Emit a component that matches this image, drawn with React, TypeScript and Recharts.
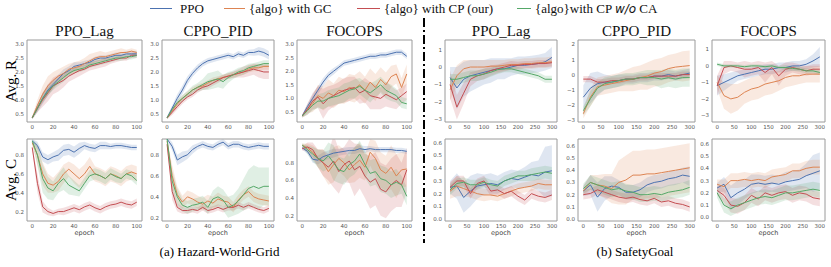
import React from "react";
import { ComposedChart, Line, Area, XAxis, YAxis, ReferenceArea } from "recharts";

// seaborn "deep" palette
const COLORS = ["#4c72b0", "#dd8452", "#c44e52", "#55a868"];
const KEYS = ["ppo", "gc", "cp", "ca"];

const EPOCH_HWG = [0, 5, 10, 15, 20, 25, 30, 35, 40, 45, 50, 55, 60, 65, 70, 75, 80, 85, 90, 95, 100];
const EPOCH_SG = [0, 20, 40, 60, 80, 100, 120, 140, 160, 180, 200, 220, 240, 260, 280, 300];
const TICKS_HWG = [0, 20, 40, 60, 80, 100];
const TICKS_SG = [0, 50, 100, 150, 200, 250, 300];
const TICKS_R_HWG = [0.5, 1.0, 1.5, 2.0, 2.5, 3.0];
const TICKS_C_HWG = [0.2, 0.4, 0.6, 0.8];
const TICKS_C_SG = [0, 0.1, 0.2, 0.3, 0.4, 0.5, 0.6];

// ---- Hazard-World-Grid, reward (order: PPO, GC, CP, CA) ----
const hwgLagR = [
  [0.35, 0.7, 1.05, 1.35, 1.55, 1.75, 1.95, 2.05, 2.2, 2.25, 2.3, 2.35, 2.45, 2.5, 2.5, 2.55, 2.6, 2.6, 2.65, 2.65, 2.65],
  [0.35, 0.8, 1.2, 1.5, 1.7, 1.85, 1.95, 2.1, 2.15, 2.2, 2.3, 2.4, 2.5, 2.55, 2.55, 2.6, 2.65, 2.7, 2.7, 2.75, 2.7],
  [0.35, 0.7, 1.0, 1.25, 1.5, 1.6, 1.7, 1.85, 1.95, 2.05, 2.1, 2.2, 2.25, 2.3, 2.35, 2.4, 2.45, 2.5, 2.5, 2.6, 2.6],
  [0.35, 0.7, 1.05, 1.3, 1.5, 1.65, 1.8, 1.95, 2.05, 2.1, 2.15, 2.25, 2.3, 2.35, 2.4, 2.45, 2.5, 2.5, 2.55, 2.55, 2.6],
];
const hwgLagRSd = [
  [0.05, 0.15, 0.2, 0.2, 0.15, 0.15, 0.15, 0.15, 0.15, 0.1, 0.1, 0.1, 0.1, 0.1, 0.1, 0.1, 0.1, 0.1, 0.1, 0.1, 0.1],
  [0.05, 0.2, 0.3, 0.35, 0.3, 0.25, 0.25, 0.2, 0.2, 0.2, 0.2, 0.25, 0.2, 0.2, 0.15, 0.15, 0.15, 0.15, 0.1, 0.1, 0.1],
  [0.05, 0.15, 0.25, 0.3, 0.3, 0.3, 0.25, 0.2, 0.2, 0.2, 0.15, 0.15, 0.15, 0.15, 0.15, 0.1, 0.1, 0.1, 0.1, 0.1, 0.1],
  [0.05, 0.1, 0.15, 0.15, 0.15, 0.15, 0.15, 0.1, 0.1, 0.1, 0.1, 0.1, 0.1, 0.1, 0.1, 0.1, 0.1, 0.1, 0.1, 0.1, 0.1],
];
const hwgPidR = [
  [0.35, 0.7, 1.05, 1.35, 1.7, 1.95, 2.15, 2.3, 2.4, 2.45, 2.5, 2.55, 2.6, 2.55, 2.65, 2.6, 2.7, 2.7, 2.75, 2.7, 2.6],
  [0.35, 0.6, 0.85, 1.05, 1.2, 1.35, 1.45, 1.5, 1.6, 1.7, 1.75, 1.8, 1.85, 1.9, 1.95, 2.0, 2.1, 2.15, 2.15, 2.2, 2.2],
  [0.35, 0.55, 0.75, 0.95, 1.1, 1.2, 1.35, 1.45, 1.5, 1.6, 1.7, 1.8, 1.85, 1.9, 1.95, 2.0, 2.05, 2.1, 2.05, 2.0, 2.0],
  [0.35, 0.65, 0.9, 1.05, 1.2, 1.35, 1.45, 1.55, 1.65, 1.7, 1.75, 1.65, 1.8, 1.9, 2.0, 2.05, 2.15, 2.2, 2.25, 2.3, 2.3],
];
const hwgPidRSd = [
  [0.05, 0.1, 0.15, 0.15, 0.15, 0.12, 0.12, 0.1, 0.1, 0.1, 0.1, 0.1, 0.1, 0.1, 0.1, 0.1, 0.1, 0.12, 0.15, 0.15, 0.15],
  [0.05, 0.1, 0.1, 0.1, 0.1, 0.1, 0.1, 0.1, 0.1, 0.1, 0.1, 0.1, 0.1, 0.1, 0.1, 0.1, 0.12, 0.12, 0.12, 0.12, 0.12],
  [0.05, 0.1, 0.1, 0.1, 0.1, 0.1, 0.1, 0.1, 0.1, 0.1, 0.1, 0.1, 0.1, 0.12, 0.15, 0.2, 0.2, 0.2, 0.25, 0.25, 0.25],
  [0.05, 0.1, 0.1, 0.12, 0.12, 0.15, 0.15, 0.2, 0.3, 0.3, 0.3, 0.25, 0.2, 0.15, 0.15, 0.15, 0.15, 0.12, 0.12, 0.12, 0.12],
];
const hwgFocR = [
  [0.35, 0.7, 1.0, 1.3, 1.6, 1.85, 2.0, 2.15, 2.3, 2.35, 2.4, 2.45, 2.5, 2.55, 2.55, 2.6, 2.6, 2.65, 2.7, 2.7, 2.55],
  [0.35, 0.6, 0.8, 1.1, 1.0, 1.2, 1.1, 1.3, 1.25, 1.4, 1.35, 1.5, 1.3, 1.6, 1.4, 1.7, 1.5, 1.8, 1.9, 1.4, 1.9],
  [0.35, 0.6, 0.9, 1.05, 0.8, 1.0, 1.1, 1.2, 1.3, 1.35, 1.4, 1.2, 1.3, 1.1, 1.05, 1.0, 1.15, 1.05, 0.95, 1.1, 1.25],
  [0.35, 0.55, 0.75, 0.9, 0.9, 1.0, 1.05, 1.1, 1.2, 1.3, 1.35, 1.45, 1.3, 1.2, 1.35, 1.5, 1.3, 1.2, 1.1, 0.85, 0.8],
];
const hwgFocRSd = [
  [0.05, 0.1, 0.15, 0.15, 0.15, 0.12, 0.12, 0.1, 0.1, 0.1, 0.1, 0.1, 0.1, 0.1, 0.1, 0.1, 0.1, 0.1, 0.1, 0.1, 0.1],
  [0.05, 0.15, 0.3, 0.4, 0.45, 0.5, 0.45, 0.5, 0.45, 0.5, 0.5, 0.5, 0.5, 0.5, 0.5, 0.45, 0.45, 0.4, 0.35, 0.35, 0.35],
  [0.05, 0.2, 0.3, 0.4, 0.55, 0.45, 0.4, 0.4, 0.45, 0.45, 0.4, 0.4, 0.45, 0.5, 0.45, 0.4, 0.45, 0.4, 0.35, 0.3, 0.3],
  [0.05, 0.15, 0.2, 0.25, 0.3, 0.3, 0.3, 0.3, 0.35, 0.3, 0.35, 0.3, 0.3, 0.35, 0.3, 0.3, 0.3, 0.3, 0.25, 0.2, 0.2],
];

// ---- Hazard-World-Grid, cost ----
const hwgLagC = [
  [0.95, 0.9, 0.78, 0.75, 0.78, 0.8, 0.85, 0.86, 0.83, 0.87, 0.9, 0.88, 0.87, 0.9, 0.9, 0.89, 0.9, 0.9, 0.89, 0.88, 0.88],
  [0.93, 0.8, 0.6, 0.5, 0.48, 0.52, 0.6, 0.65, 0.6, 0.55, 0.6, 0.68, 0.6, 0.58, 0.55, 0.6, 0.58, 0.55, 0.6, 0.62, 0.6],
  [0.88, 0.5, 0.25, 0.2, 0.18, 0.2, 0.2, 0.22, 0.24, 0.22, 0.25, 0.27, 0.24, 0.22, 0.25, 0.27, 0.28, 0.3, 0.28, 0.27, 0.3],
  [0.95, 0.8, 0.55, 0.45, 0.42, 0.5, 0.55, 0.48, 0.45, 0.42, 0.5, 0.58, 0.6, 0.58, 0.55, 0.6, 0.57, 0.55, 0.6, 0.58, 0.53],
];
const hwgLagCSd = [
  [0.02, 0.04, 0.05, 0.05, 0.05, 0.06, 0.06, 0.06, 0.06, 0.06, 0.04, 0.04, 0.04, 0.04, 0.04, 0.03, 0.03, 0.03, 0.03, 0.03, 0.03],
  [0.02, 0.1, 0.12, 0.1, 0.08, 0.1, 0.1, 0.08, 0.1, 0.1, 0.1, 0.1, 0.08, 0.08, 0.08, 0.08, 0.08, 0.08, 0.08, 0.08, 0.08],
  [0.02, 0.1, 0.06, 0.04, 0.03, 0.03, 0.04, 0.04, 0.04, 0.04, 0.04, 0.04, 0.04, 0.04, 0.04, 0.04, 0.04, 0.04, 0.04, 0.04, 0.04],
  [0.02, 0.12, 0.15, 0.12, 0.1, 0.1, 0.12, 0.1, 0.08, 0.06, 0.06, 0.06, 0.06, 0.06, 0.06, 0.06, 0.06, 0.05, 0.05, 0.05, 0.05],
];
const hwgPidC = [
  [0.95, 0.88, 0.75, 0.78, 0.8, 0.85, 0.88, 0.9, 0.88, 0.87, 0.9, 0.92, 0.88, 0.9, 0.9, 0.88, 0.87, 0.88, 0.89, 0.88, 0.88],
  [0.93, 0.6, 0.42, 0.35, 0.4, 0.38, 0.35, 0.33, 0.36, 0.34, 0.38, 0.36, 0.35, 0.3, 0.37, 0.42, 0.45, 0.4, 0.38, 0.37, 0.36],
  [0.9, 0.45, 0.3, 0.27, 0.27, 0.28, 0.27, 0.3, 0.27, 0.28, 0.3, 0.28, 0.3, 0.3, 0.32, 0.3, 0.32, 0.3, 0.28, 0.27, 0.29],
  [0.95, 0.55, 0.4, 0.32, 0.3, 0.32, 0.33, 0.35, 0.3, 0.38, 0.4, 0.37, 0.3, 0.32, 0.36, 0.42, 0.48, 0.5, 0.48, 0.5, 0.5],
];
const hwgPidCSd = [
  [0.02, 0.04, 0.05, 0.05, 0.04, 0.04, 0.03, 0.03, 0.03, 0.03, 0.03, 0.03, 0.03, 0.03, 0.03, 0.03, 0.03, 0.03, 0.03, 0.03, 0.03],
  [0.02, 0.1, 0.08, 0.06, 0.06, 0.06, 0.06, 0.06, 0.06, 0.06, 0.06, 0.05, 0.05, 0.05, 0.05, 0.05, 0.05, 0.05, 0.05, 0.05, 0.05],
  [0.02, 0.08, 0.04, 0.03, 0.03, 0.03, 0.03, 0.03, 0.03, 0.03, 0.03, 0.03, 0.03, 0.03, 0.03, 0.03, 0.03, 0.03, 0.03, 0.03, 0.03],
  [0.02, 0.1, 0.08, 0.06, 0.06, 0.06, 0.06, 0.06, 0.06, 0.08, 0.1, 0.1, 0.1, 0.1, 0.12, 0.15, 0.18, 0.2, 0.2, 0.18, 0.18],
];
const hwgFocC = [
  [0.97, 0.93, 0.84, 0.83, 0.87, 0.89, 0.91, 0.92, 0.93, 0.94, 0.94, 0.96, 0.95, 0.96, 0.95, 0.95, 0.95, 0.95, 0.94, 0.94, 0.93],
  [1.0, 0.97, 0.92, 0.85, 0.8, 0.7, 0.78, 0.85, 0.8, 0.72, 0.78, 0.83, 0.75, 0.92, 0.85, 0.72, 0.68, 0.75, 0.65, 0.72, 0.73],
  [0.96, 0.98, 0.95, 0.85, 0.8, 0.75, 0.82, 0.7, 0.78, 0.82, 0.72, 0.76, 0.65, 0.58, 0.62, 0.5, 0.47, 0.55, 0.6, 0.55, 0.72],
  [1.0, 0.95, 0.9, 0.85, 0.82, 0.88, 0.8, 0.72, 0.7, 0.78, 0.82, 0.9, 0.78, 0.68, 0.7, 0.62, 0.6, 0.55, 0.58, 0.55, 0.42],
];
const hwgFocCSd = [
  [0.02, 0.03, 0.04, 0.05, 0.05, 0.05, 0.05, 0.04, 0.04, 0.04, 0.04, 0.04, 0.04, 0.03, 0.03, 0.03, 0.03, 0.03, 0.03, 0.03, 0.03],
  [0.02, 0.05, 0.08, 0.1, 0.15, 0.15, 0.2, 0.15, 0.15, 0.15, 0.2, 0.2, 0.15, 0.15, 0.2, 0.2, 0.2, 0.25, 0.25, 0.2, 0.2],
  [0.02, 0.05, 0.08, 0.1, 0.15, 0.15, 0.3, 0.25, 0.2, 0.25, 0.3, 0.25, 0.25, 0.3, 0.3, 0.3, 0.3, 0.3, 0.3, 0.25, 0.25],
  [0.02, 0.05, 0.08, 0.1, 0.12, 0.15, 0.2, 0.15, 0.15, 0.15, 0.15, 0.15, 0.15, 0.15, 0.15, 0.15, 0.15, 0.15, 0.15, 0.1, 0.1],
];

// ---- SafetyGoal, reward ----
const sgLagR = [
  [-0.6, -1.2, -0.7, -0.5, -0.4, -0.3, -0.2, -0.1, -0.1, 0, 0.1, 0.1, 0.15, 0.2, 0.3, 0.55],
  [-1.3, -0.5, -0.1, 0, 0, 0, 0.05, 0.05, 0.1, 0.15, 0.15, 0.2, 0.2, 0.25, 0.25, 0.3],
  [-1.0, -2.3, -1.5, -0.7, -0.5, -0.4, -0.2, -0.1, 0, 0.1, 0.1, 0.15, 0.15, 0.2, 0.2, 0.25],
  [-0.7, -0.7, -0.6, -0.5, -0.5, -0.4, -0.3, -0.15, -0.1, -0.1, -0.2, -0.3, -0.4, -0.5, -0.7, -0.7],
];
const sgLagRSd = [
  [0.6, 1.2, 1.0, 0.9, 0.8, 0.7, 0.7, 0.6, 0.6, 0.5, 0.5, 0.5, 0.5, 0.5, 0.5, 0.6],
  [0.6, 0.6, 0.5, 0.4, 0.4, 0.4, 0.35, 0.35, 0.3, 0.3, 0.3, 0.3, 0.3, 0.3, 0.3, 0.3],
  [0.8, 0.7, 0.6, 0.4, 0.3, 0.3, 0.3, 0.25, 0.25, 0.25, 0.2, 0.2, 0.2, 0.2, 0.2, 0.2],
  [0.3, 0.3, 0.3, 0.3, 0.3, 0.3, 0.25, 0.25, 0.2, 0.2, 0.2, 0.2, 0.2, 0.2, 0.2, 0.2],
];
const sgPidR = [
  [-1.5, -0.9, -0.6, -0.5, -0.5, -0.4, -0.3, -0.3, -0.2, -0.2, -0.1, -0.1, 0, -0.1, 0, 0.1],
  [-2.6, -1.5, -0.8, -0.7, -0.6, -0.5, -0.4, -0.3, -0.2, -0.1, 0.1, 0.2, 0.4, 0.5, 0.55, 0.6],
  [-0.3, -0.3, -0.5, -0.5, -0.4, -0.4, -0.3, -0.3, -0.2, -0.2, -0.1, -0.1, -0.1, -0.1, 0, 0],
  [-2.4, -1.6, -0.9, -0.6, -0.5, -0.4, -0.3, -0.3, -0.2, -0.2, -0.2, -0.3, -0.2, -0.3, -0.2, -0.2],
];
const sgPidRSd = [
  [0.8, 1.0, 0.8, 0.5, 0.4, 0.4, 0.3, 0.3, 0.3, 0.3, 0.3, 0.3, 0.3, 0.3, 0.3, 0.3],
  [0.3, 0.6, 0.6, 0.6, 0.6, 0.6, 0.7, 0.8, 0.8, 0.9, 0.9, 0.9, 0.9, 0.9, 1.0, 1.0],
  [0.2, 0.2, 0.2, 0.2, 0.2, 0.2, 0.2, 0.2, 0.2, 0.2, 0.2, 0.2, 0.2, 0.2, 0.2, 0.2],
  [0.3, 0.5, 0.4, 0.4, 0.4, 0.4, 0.4, 0.4, 0.4, 0.5, 0.5, 0.6, 0.6, 0.6, 0.6, 0.6],
];
const sgFocR = [
  [-1.2, -1.0, -0.8, -0.6, -0.5, -0.4, -0.3, -0.2, -0.2, -0.1, -0.1, 0, 0, 0.1, 0.3, 0.55],
  [-1.0, -1.8, -2.0, -1.9, -1.6, -1.4, -1.3, -1.1, -1.0, -0.9, -0.7, -0.6, -0.6, -0.5, -0.5, -0.5],
  [-1.2, -0.1, 0, -0.1, -0.2, -0.2, -0.1, -0.4, -0.1, -0.6, -0.2, -0.1, -0.2, -0.3, -0.2, -0.2],
  [0.1, 0, 0, 0, -0.05, 0, 0, -0.05, 0, -0.1, -0.1, -0.15, -0.2, -0.3, -0.3, -0.4],
];
const sgFocRSd = [
  [0.6, 0.5, 0.4, 0.3, 0.3, 0.3, 0.3, 0.3, 0.3, 0.3, 0.3, 0.3, 0.3, 0.3, 0.4, 0.6],
  [0.4, 0.8, 0.9, 0.8, 0.7, 0.7, 0.7, 0.7, 0.7, 0.6, 0.6, 0.6, 0.5, 0.5, 0.5, 0.5],
  [0.6, 0.4, 0.3, 0.3, 0.5, 0.4, 0.4, 0.6, 0.4, 0.6, 0.4, 0.3, 0.3, 0.3, 0.3, 0.3],
  [0.1, 0.1, 0.1, 0.1, 0.1, 0.1, 0.1, 0.1, 0.1, 0.1, 0.15, 0.15, 0.15, 0.15, 0.15, 0.15],
];

// ---- SafetyGoal, cost ----
const sgLagC = [
  [0.25, 0.26, 0.17, 0.22, 0.26, 0.27, 0.28, 0.27, 0.3, 0.32, 0.31, 0.33, 0.35, 0.34, 0.37, 0.38],
  [0.22, 0.26, 0.24, 0.22, 0.2, 0.19, 0.19, 0.18, 0.2, 0.22, 0.24, 0.25, 0.26, 0.28, 0.27, 0.27],
  [0.25, 0.3, 0.3, 0.2, 0.28, 0.3, 0.22, 0.23, 0.2, 0.22, 0.18, 0.15, 0.2, 0.18, 0.17, 0.19],
  [0.23, 0.28, 0.29, 0.27, 0.27, 0.29, 0.27, 0.26, 0.3, 0.32, 0.34, 0.34, 0.35, 0.36, 0.37, 0.36],
];
const sgLagCSd = [
  [0.05, 0.1, 0.12, 0.12, 0.1, 0.08, 0.08, 0.07, 0.07, 0.07, 0.07, 0.08, 0.1, 0.12, 0.2, 0.2],
  [0.06, 0.08, 0.06, 0.05, 0.05, 0.05, 0.04, 0.04, 0.04, 0.04, 0.04, 0.04, 0.04, 0.04, 0.04, 0.04],
  [0.04, 0.04, 0.04, 0.04, 0.04, 0.04, 0.04, 0.04, 0.04, 0.04, 0.04, 0.04, 0.04, 0.04, 0.04, 0.04],
  [0.04, 0.04, 0.04, 0.04, 0.04, 0.04, 0.04, 0.04, 0.04, 0.04, 0.04, 0.04, 0.05, 0.05, 0.05, 0.05],
];
const sgPidC = [
  [0.23, 0.28, 0.18, 0.25, 0.27, 0.26, 0.22, 0.22, 0.24, 0.28, 0.3, 0.31, 0.33, 0.34, 0.36, 0.35],
  [0.23, 0.3, 0.28, 0.27, 0.25, 0.3, 0.32, 0.36, 0.36, 0.37, 0.37, 0.38, 0.39, 0.4, 0.41, 0.42],
  [0.2, 0.21, 0.24, 0.22, 0.2, 0.18, 0.17, 0.18, 0.16, 0.15, 0.17, 0.14, 0.15, 0.13, 0.12, 0.1],
  [0.25, 0.3, 0.28, 0.26, 0.24, 0.25, 0.23, 0.22, 0.2, 0.2, 0.21, 0.2, 0.22, 0.23, 0.24, 0.26],
];
const sgPidCSd = [
  [0.04, 0.08, 0.12, 0.1, 0.08, 0.06, 0.06, 0.06, 0.06, 0.06, 0.06, 0.06, 0.06, 0.06, 0.06, 0.08],
  [0.04, 0.06, 0.08, 0.1, 0.12, 0.18, 0.2, 0.2, 0.2, 0.2, 0.2, 0.2, 0.2, 0.2, 0.2, 0.2],
  [0.04, 0.04, 0.04, 0.04, 0.04, 0.04, 0.04, 0.04, 0.04, 0.04, 0.04, 0.04, 0.04, 0.04, 0.04, 0.04],
  [0.04, 0.06, 0.06, 0.06, 0.06, 0.06, 0.06, 0.06, 0.06, 0.06, 0.06, 0.06, 0.06, 0.06, 0.06, 0.06],
];
const sgFocC = [
  [0.24, 0.27, 0.16, 0.2, 0.23, 0.27, 0.28, 0.27, 0.28, 0.27, 0.29, 0.3, 0.31, 0.34, 0.36, 0.38],
  [0.27, 0.25, 0.3, 0.3, 0.31, 0.3, 0.31, 0.3, 0.33, 0.34, 0.35, 0.38, 0.38, 0.4, 0.41, 0.41],
  [0.22, 0.18, 0.1, 0.09, 0.12, 0.18, 0.15, 0.2, 0.18, 0.2, 0.21, 0.18, 0.2, 0.19, 0.16, 0.15],
  [0.2, 0.1, 0.07, 0.1, 0.12, 0.14, 0.16, 0.17, 0.16, 0.18, 0.2, 0.2, 0.21, 0.22, 0.23, 0.22],
];
const sgFocCSd = [
  [0.04, 0.06, 0.1, 0.1, 0.08, 0.08, 0.07, 0.07, 0.07, 0.07, 0.08, 0.08, 0.08, 0.1, 0.15, 0.15],
  [0.04, 0.06, 0.06, 0.06, 0.06, 0.06, 0.06, 0.06, 0.06, 0.06, 0.06, 0.06, 0.06, 0.06, 0.06, 0.06],
  [0.04, 0.06, 0.06, 0.06, 0.06, 0.06, 0.06, 0.06, 0.06, 0.06, 0.06, 0.06, 0.06, 0.06, 0.06, 0.06],
  [0.04, 0.06, 0.06, 0.06, 0.06, 0.06, 0.06, 0.06, 0.06, 0.06, 0.06, 0.06, 0.06, 0.06, 0.06, 0.06],
];

const SERIF = '"Liberation Serif", "Times New Roman", serif';
const SANS = '"DejaVu Sans", sans-serif';
const FRAME = "#9a9a9a";

const YW = 22;
const TM = 4;
const RM = 4;
const XH = 11;

function buildRows(xs: number[], means: number[][], sds: number[][]) {
  return xs.map((x, i) => {
    const row: any = { x };
    KEYS.forEach((k, j) => {
      row[k] = means[j][i];
      row[k + "Band"] = [means[j][i] - sds[j][i], means[j][i] + sds[j][i]];
    });
    return row;
  });
}

const fmt1 = (v: number) => v.toFixed(1);
const fmtInt = (v: number) => (v < 0 ? "\u2212" + Math.abs(v) : String(v));

function Panel(props: any) {
  const { left, top, w, h, xs, means, sds, xDomain, xTicks, yDomain, yTicks, yFmt, epoch } = props;
  const data = buildRows(xs, means, sds);
  return (
    <>
      <div style={{ position: "absolute", left: left - YW, top: top - TM }}>
        <ComposedChart width={w + YW + RM} height={h + TM + XH} data={data} margin={{ top: TM, right: RM, left: 0, bottom: 0 }}>
          <XAxis
            type="number"
            dataKey="x"
            domain={xDomain}
            ticks={xTicks}
            axisLine={false}
            tickLine={false}
            tickSize={2}
            tickMargin={1}
            height={XH}
            tick={{ fontSize: 5.5, fill: "#555", fontFamily: SANS }}
          />
          <YAxis
            type="number"
            domain={yDomain}
            ticks={yTicks}
            allowDataOverflow
            axisLine={false}
            tickLine={false}
            tickSize={2}
            tickMargin={1}
            width={YW}
            tickFormatter={yFmt}
            tick={{ fontSize: 5.5, fill: "#555", fontFamily: SANS }}
          />
          {KEYS.map((k, j) => (
            <Area key={k + "b"} dataKey={k + "Band"} stroke="none" fill={COLORS[j]} fillOpacity={0.18} isAnimationActive={false} />
          ))}
          {KEYS.map((k, j) => (
            <Line key={k} dataKey={k} stroke={COLORS[j]} strokeWidth={1} dot={false} isAnimationActive={false} />
          ))}
          <ReferenceArea x1={xDomain[0]} x2={xDomain[1]} y1={yDomain[0]} y2={yDomain[1]} fill="none" stroke={FRAME} strokeWidth={1} />
        </ComposedChart>
      </div>
      {epoch && (
        <div style={{ position: "absolute", left, width: w, top: top + h + 8, textAlign: "center", fontFamily: SANS, fontSize: 6.5, lineHeight: "8px", color: "#444" }}>
          epoch
        </div>
      )}
    </>
  );
}

const TOP = 40;
const BOT = 139;
const H = 82;
const COLS = [
  { left: 27, w: 115, title: "PPO_Lag" },
  { left: 162, w: 112, title: "CPPO_PID" },
  { left: 297, w: 115, title: "FOCOPS" },
  { left: 445, w: 112, title: "PPO_Lag" },
  { left: 578, w: 117, title: "CPPO_PID" },
  { left: 712, w: 113, title: "FOCOPS" },
];

const LEGEND = [
  { label: "PPO", x: 150, sw: 22 },
  { label: "{algo} with GC", x: 224, sw: 21 },
  { label: "{algo} with CP (our)", x: 357, sw: 23 },
  { label: "CA", x: 517, sw: 14 },
];

export default function App() {
  const hwgX = { xs: EPOCH_HWG, xDomain: [-5, 105], xTicks: TICKS_HWG };
  const sgX = { xs: EPOCH_SG, xDomain: [-15, 315], xTicks: TICKS_SG };
  const rHwg = { yTicks: TICKS_R_HWG, yFmt: fmt1 };
  const cHwg = { yTicks: TICKS_C_HWG, yFmt: fmt1, epoch: true };
  const cSg = { yTicks: TICKS_C_SG, yFmt: fmt1, epoch: true };

  return (
    <div style={{ position: "absolute", left: 0, top: 0, width: 831, height: 267, background: "#fff", overflow: "hidden" }}>
      {/* legend */}
      {LEGEND.map((it, i) => (
        <div key={i} style={{ position: "absolute", left: it.x, top: 0, height: 17, display: "flex", alignItems: "center", fontFamily: SERIF, fontSize: 13, color: "#111", whiteSpace: "nowrap" }}>
          <span style={{ display: "inline-block", width: it.sw, height: 1.5, background: COLORS[i], marginRight: i === 0 ? 8 : 4 }} />
          {i === 3 ? (
            <span>
              {"{algo}with CP "}
              <i style={{ fontFamily: SANS, fontSize: 12 }}>w/o</i>
              {" CA"}
            </span>
          ) : (
            it.label
          )}
        </div>
      ))}

      {/* titles */}
      {COLS.map((c, i) => (
        <div key={i} style={{ position: "absolute", left: c.left, width: c.w, top: 23, textAlign: "center", fontFamily: SERIF, fontSize: 15, color: "#111" }}>
          {c.title}
        </div>
      ))}

      {/* y labels */}
      <div style={{ position: "absolute", left: 11, top: TOP + H / 2, transform: "translate(-50%, -50%) rotate(-90deg)", fontFamily: SERIF, fontSize: 15, whiteSpace: "nowrap" }}>Avg. R</div>
      <div style={{ position: "absolute", left: 11, top: BOT + H / 2, transform: "translate(-50%, -50%) rotate(-90deg)", fontFamily: SERIF, fontSize: 15, whiteSpace: "nowrap" }}>Avg. C</div>

      {/* Hazard-World-Grid */}
      <Panel {...COLS[0]} top={TOP} h={H} {...hwgX} {...rHwg} means={hwgLagR} sds={hwgLagRSd} yDomain={[0.2, 3.15]} />
      <Panel {...COLS[1]} top={TOP} h={H} {...hwgX} {...rHwg} means={hwgPidR} sds={hwgPidRSd} yDomain={[0.2, 3.15]} />
      <Panel {...COLS[2]} top={TOP} h={H} {...hwgX} {...rHwg} means={hwgFocR} sds={hwgFocRSd} yDomain={[0.13, 3.15]} />
      <Panel {...COLS[0]} top={BOT} h={H} {...hwgX} {...cHwg} means={hwgLagC} sds={hwgLagCSd} yDomain={[0.1, 0.97]} />
      <Panel {...COLS[1]} top={BOT} h={H} {...hwgX} {...cHwg} means={hwgPidC} sds={hwgPidCSd} yDomain={[0.17, 0.95]} />
      <Panel {...COLS[2]} top={BOT} h={H} {...hwgX} {...cHwg} means={hwgFocC} sds={hwgFocCSd} yDomain={[0.14, 1.07]} />

      {/* SafetyGoal */}
      <Panel {...COLS[3]} top={TOP} h={H} {...sgX} yTicks={[-3, -2, -1, 0, 1]} yFmt={fmtInt} means={sgLagR} sds={sgLagRSd} yDomain={[-3.15, 1.55]} />
      <Panel {...COLS[4]} top={TOP} h={H} {...sgX} yTicks={[-3, -2, -1, 0, 1, 2]} yFmt={fmtInt} means={sgPidR} sds={sgPidRSd} yDomain={[-3.15, 2.3]} />
      <Panel {...COLS[5]} top={TOP} h={H} {...sgX} yTicks={[-3, -2, -1, 0, 1]} yFmt={fmtInt} means={sgFocR} sds={sgFocRSd} yDomain={[-3.4, 1.57]} />
      <Panel {...COLS[3]} top={BOT} h={H} {...sgX} {...cSg} means={sgLagC} sds={sgLagCSd} yDomain={[-0.015, 0.63]} />
      <Panel {...COLS[4]} top={BOT} h={H} {...sgX} {...cSg} means={sgPidC} sds={sgPidCSd} yDomain={[-0.015, 0.655]} />
      <Panel {...COLS[5]} top={BOT} h={H} {...sgX} {...cSg} means={sgFocC} sds={sgFocCSd} yDomain={[-0.03, 0.64]} />

      {/* dash-dot separator */}
      <svg style={{ position: "absolute", left: 420, top: 18 }} width={8} height={225}>
        <line x1={4} y1={0} x2={4} y2={225} stroke="#000" strokeWidth={2} strokeDasharray="9 3 2 3" />
      </svg>

      {/* captions */}
      <div style={{ position: "absolute", left: 27, width: 385, top: 244, textAlign: "center", fontFamily: SERIF, fontSize: 13 }}>(a) Hazard-World-Grid</div>
      <div style={{ position: "absolute", left: 445, width: 380, top: 244, textAlign: "center", fontFamily: SERIF, fontSize: 13 }}>(b) SafetyGoal</div>
    </div>
  );
}
